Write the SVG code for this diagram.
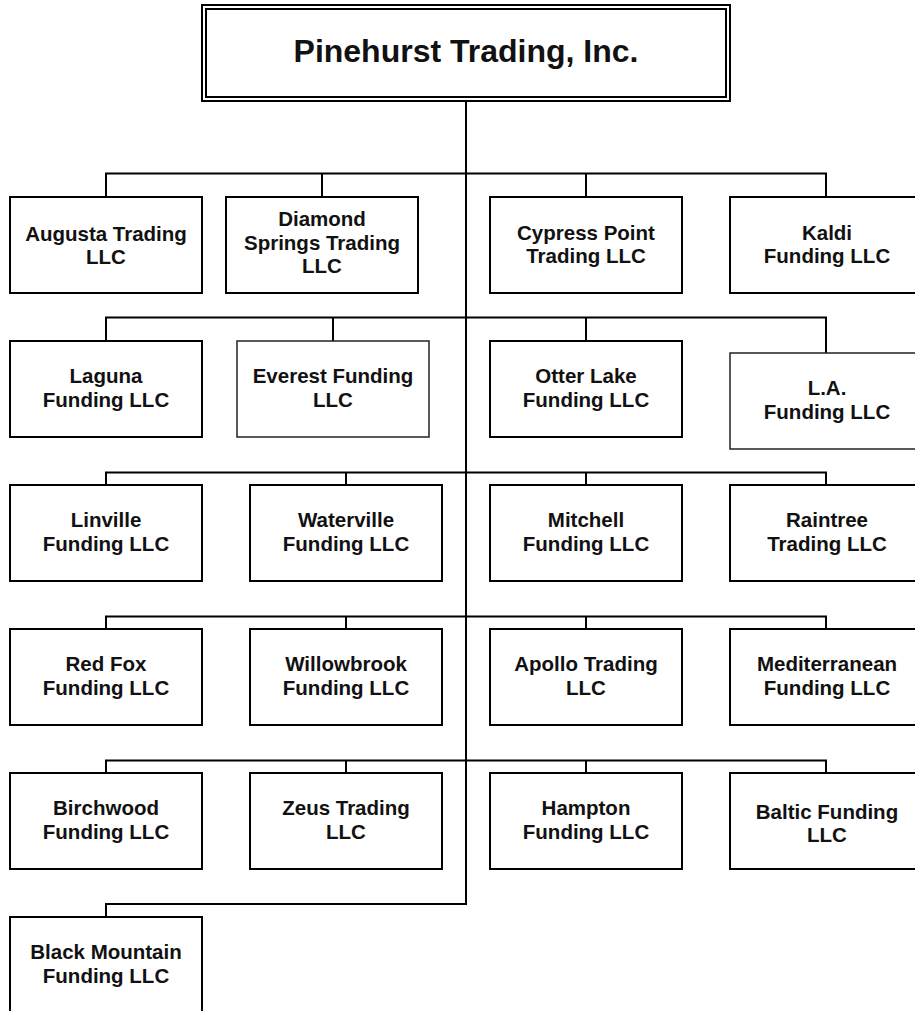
<svg xmlns="http://www.w3.org/2000/svg" width="915" height="1011" viewBox="0 0 915 1011">
<style>
.box{fill:#fff;stroke:#000;stroke-width:2}
.thin{stroke:#222;stroke-width:1.5}
.lbl{font-family:"Liberation Sans",Arial,sans-serif;font-weight:bold;font-size:20.5px;fill:#111;text-anchor:middle}
.title{font-family:"Liberation Sans",Arial,sans-serif;font-weight:bold;font-size:32px;fill:#111;text-anchor:middle}
.conn{fill:none;stroke:#000;stroke-width:2}
</style>
<rect width="915" height="1011" fill="#fff"/>
<g id="connectors">
<path class="conn" d="M466,101 V904 H106 V917"/>
<path class="conn" d="M106,197 V173.5 H826 V197 M322,173.5 V197 M586,173.5 V197"/>
<path class="conn" d="M106,341 V317.5 H826 V353 M333,317.5 V341 M586,317.5 V341"/>
<path class="conn" d="M106,485 V472.5 H826 V485 M346,472.5 V485 M586,472.5 V485"/>
<path class="conn" d="M106,629 V616.5 H826 V629 M346,616.5 V629 M586,616.5 V629"/>
<path class="conn" d="M106,773 V760.5 H826 V773 M346,760.5 V773 M586,760.5 V773"/>
</g>
<g id="pinehurst">
<rect class="box" x="202" y="5" width="528" height="96"/>
<rect class="box" x="206" y="9" width="520" height="88"/>
<text class="title" x="466" y="62">Pinehurst Trading, Inc.</text>
</g>
<g id="augusta"><rect class="box" x="10" y="197" width="192" height="96"/><text class="lbl" x="106" y="241">Augusta Trading</text><text class="lbl" x="106" y="264">LLC</text></g>
<g id="diamond"><rect class="box" x="226" y="197" width="192" height="96"/><text class="lbl" x="322" y="226">Diamond</text><text class="lbl" x="322" y="249.5">Springs Trading</text><text class="lbl" x="322" y="273">LLC</text></g>
<g id="cypress"><rect class="box" x="490" y="197" width="192" height="96"/><text class="lbl" x="586" y="239.5">Cypress Point</text><text class="lbl" x="586" y="262.5">Trading LLC</text></g>
<g id="kaldi"><rect class="box" x="730" y="197" width="192" height="96"/><text class="lbl" x="827" y="239.5">Kaldi</text><text class="lbl" x="827" y="262.5">Funding LLC</text></g>

<g id="laguna"><rect class="box" x="10" y="341" width="192" height="96"/><text class="lbl" x="106" y="383">Laguna</text><text class="lbl" x="106" y="406.5">Funding LLC</text></g>
<g id="everest"><rect class="box thin" x="237" y="341" width="192" height="96"/><text class="lbl" x="333" y="383">Everest Funding</text><text class="lbl" x="333" y="406.5">LLC</text></g>
<g id="otterlake"><rect class="box" x="490" y="341" width="192" height="96"/><text class="lbl" x="586" y="383">Otter Lake</text><text class="lbl" x="586" y="406.5">Funding LLC</text></g>
<g id="la"><rect class="box thin" x="730" y="353" width="192" height="96"/><text class="lbl" x="827" y="394.5">L.A.</text><text class="lbl" x="827" y="419">Funding LLC</text></g>

<g id="linville"><rect class="box" x="10" y="485" width="192" height="96"/><text class="lbl" x="106" y="527">Linville</text><text class="lbl" x="106" y="550.5">Funding LLC</text></g>
<g id="waterville"><rect class="box" x="250" y="485" width="192" height="96"/><text class="lbl" x="346" y="527">Waterville</text><text class="lbl" x="346" y="550.5">Funding LLC</text></g>
<g id="mitchell"><rect class="box" x="490" y="485" width="192" height="96"/><text class="lbl" x="586" y="527">Mitchell</text><text class="lbl" x="586" y="550.5">Funding LLC</text></g>
<g id="raintree"><rect class="box" x="730" y="485" width="192" height="96"/><text class="lbl" x="827" y="527">Raintree</text><text class="lbl" x="827" y="550.5">Trading LLC</text></g>

<g id="redfox"><rect class="box" x="10" y="629" width="192" height="96"/><text class="lbl" x="106" y="671">Red Fox</text><text class="lbl" x="106" y="694.5">Funding LLC</text></g>
<g id="willowbrook"><rect class="box" x="250" y="629" width="192" height="96"/><text class="lbl" x="346" y="671">Willowbrook</text><text class="lbl" x="346" y="694.5">Funding LLC</text></g>
<g id="apollo"><rect class="box" x="490" y="629" width="192" height="96"/><text class="lbl" x="586" y="671">Apollo Trading</text><text class="lbl" x="586" y="694.5">LLC</text></g>
<g id="mediterranean"><rect class="box" x="730" y="629" width="192" height="96"/><text class="lbl" x="827" y="671">Mediterranean</text><text class="lbl" x="827" y="694.5">Funding LLC</text></g>

<g id="birchwood"><rect class="box" x="10" y="773" width="192" height="96"/><text class="lbl" x="106" y="815">Birchwood</text><text class="lbl" x="106" y="838.5">Funding LLC</text></g>
<g id="zeus"><rect class="box" x="250" y="773" width="192" height="96"/><text class="lbl" x="346" y="815">Zeus Trading</text><text class="lbl" x="346" y="838.5">LLC</text></g>
<g id="hampton"><rect class="box" x="490" y="773" width="192" height="96"/><text class="lbl" x="586" y="815">Hampton</text><text class="lbl" x="586" y="838.5">Funding LLC</text></g>
<g id="baltic"><rect class="box" x="730" y="773" width="192" height="96"/><text class="lbl" x="827" y="818.5">Baltic Funding</text><text class="lbl" x="827" y="841.5">LLC</text></g>

<g id="blackmountain"><rect class="box" x="10" y="917" width="192" height="96"/><text class="lbl" x="106" y="959">Black Mountain</text><text class="lbl" x="106" y="982.5">Funding LLC</text></g>
</svg>
